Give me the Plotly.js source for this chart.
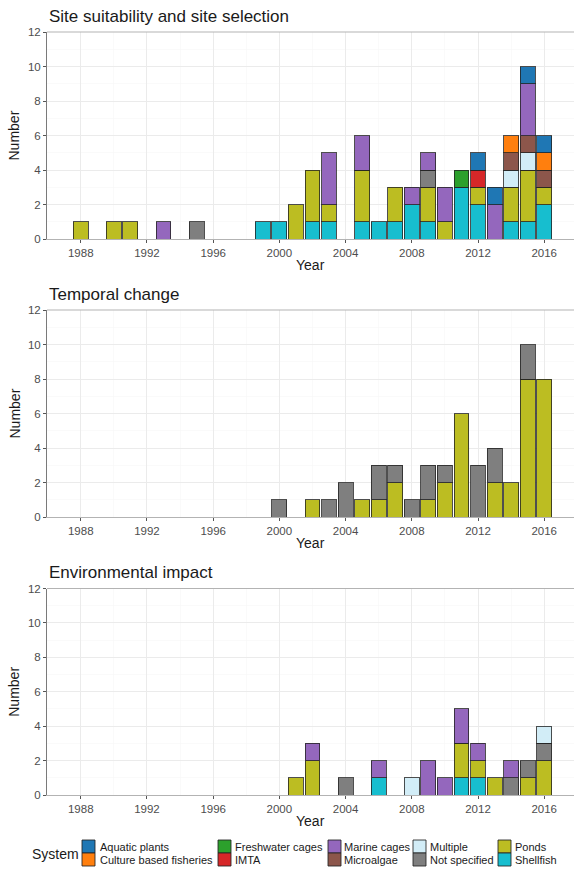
<!DOCTYPE html>
<html>
<head>
<meta charset="utf-8">
<script src="https://cdn.plot.ly/plotly-3.0.1.min.js"></script>
<style>html,body{margin:0;padding:0;background:#fff;}#chart{width:574px;height:872px;}</style>
</head>
<body>
<div id="chart"></div>
<script>
// ---------- DATA ----------
const years = [1988,1989,1990,1991,1992,1993,1994,1995,1996,1997,1998,1999,2000,2001,2002,2003,2004,2005,2006,2007,2008,2009,2010,2011,2012,2013,2014,2015,2016];

const categories = ["Aquatic plants","Culture based fisheries","Freshwater cages","IMTA","Marine cages","Microalgae","Multiple","Not specified","Ponds","Shellfish"];

const panelTitles = ["Site suitability and site selection","Temporal change","Environmental impact"];

//                      1988              1993                1998                2003                2008                2013
// Panel 1: Site suitability and site selection
const site_aquatic    = [0,0,0,0,0, 0,0,0,0,0, 0,0,0,0,0, 0,0,0,0,0, 0,0,0,0,1, 1,0,1,1];
const site_cbf        = [0,0,0,0,0, 0,0,0,0,0, 0,0,0,0,0, 0,0,0,0,0, 0,0,0,0,0, 0,1,0,1];
const site_freshwater = [0,0,0,0,0, 0,0,0,0,0, 0,0,0,0,0, 0,0,0,0,0, 0,0,0,1,0, 0,0,0,0];
const site_imta       = [0,0,0,0,0, 0,0,0,0,0, 0,0,0,0,0, 0,0,0,0,0, 0,0,0,0,1, 0,0,0,0];
const site_marine     = [0,0,0,0,0, 1,0,0,0,0, 0,0,0,0,0, 3,0,2,0,0, 1,1,2,0,0, 2,0,3,0];
const site_microalgae = [0,0,0,0,0, 0,0,0,0,0, 0,0,0,0,0, 0,0,0,0,0, 0,0,0,0,0, 0,1,1,1];
const site_multiple   = [0,0,0,0,0, 0,0,0,0,0, 0,0,0,0,0, 0,0,0,0,0, 0,0,0,0,0, 0,1,1,0];
const site_notspec    = [0,0,0,0,0, 0,0,1,0,0, 0,0,0,0,0, 0,0,0,0,0, 0,1,0,0,0, 0,0,0,0];
const site_ponds      = [1,0,1,1,0, 0,0,0,0,0, 0,0,0,2,3, 1,0,3,0,2, 0,2,1,0,1, 0,2,3,1];
const site_shellfish  = [0,0,0,0,0, 0,0,0,0,0, 0,1,1,0,1, 1,0,1,1,1, 2,1,0,3,2, 0,1,1,2];

// Panel 2: Temporal change
const temp_notspec    = [0,0,0,0,0, 0,0,0,0,0, 0,0,1,0,0, 1,2,0,2,1, 1,2,1,0,3, 2,0,2,0];
const temp_ponds      = [0,0,0,0,0, 0,0,0,0,0, 0,0,0,0,1, 0,0,1,1,2, 0,1,2,6,0, 2,2,8,8];

// Panel 3: Environmental impact
const env_marine      = [0,0,0,0,0, 0,0,0,0,0, 0,0,0,0,1, 0,0,0,1,0, 0,2,1,2,1, 0,1,0,0];
const env_multiple    = [0,0,0,0,0, 0,0,0,0,0, 0,0,0,0,0, 0,0,0,0,0, 1,0,0,0,0, 0,0,0,1];
const env_notspec     = [0,0,0,0,0, 0,0,0,0,0, 0,0,0,0,0, 0,1,0,0,0, 0,0,0,0,0, 0,1,1,1];
const env_ponds       = [0,0,0,0,0, 0,0,0,0,0, 0,0,0,1,2, 0,0,0,0,0, 0,0,0,2,1, 1,0,1,2];
const env_shellfish   = [0,0,0,0,0, 0,0,0,0,0, 0,0,0,0,0, 0,0,0,1,0, 0,0,0,1,1, 0,0,0,0];

// ---------- STYLE ----------
const colors = ['#1f77b4','#ff7f0e','#2ca02c','#d62728','#9467bd','#8c564b','#d2edf7','#7f7f7f','#bcbd22','#17becf'];

const panels = [
  {"Aquatic plants": site_aquatic, "Culture based fisheries": site_cbf, "Freshwater cages": site_freshwater,
   "IMTA": site_imta, "Marine cages": site_marine, "Microalgae": site_microalgae, "Multiple": site_multiple,
   "Not specified": site_notspec, "Ponds": site_ponds, "Shellfish": site_shellfish},
  {"Not specified": temp_notspec, "Ponds": temp_ponds},
  {"Marine cages": env_marine, "Multiple": env_multiple, "Not specified": env_notspec, "Ponds": env_ponds, "Shellfish": env_shellfish}
];

const W = 574, H = 872;
const FONT = "Liberation Sans, Arial, sans-serif";
const plotLeft = 47;
// panel pixel extents (top, bottom)
const panelPx = [[32, 239], [310, 517], [588.5, 795]];

const traces = [];
panels.forEach((p, pi) => {
  const ax = pi === 0 ? '' : String(pi + 1);
  // stack bottom-up: reverse of legend order
  for (let ci = categories.length - 1; ci >= 0; ci--) {
    const cat = categories[ci];
    const vals = p[cat];
    if (!vals) continue;
    const xs = [], ys = [];
    vals.forEach((v, i) => { if (v > 0) { xs.push(years[i]); ys.push(v); } });
    if (!xs.length) continue;
    traces.push({
      type: 'bar', x: xs, y: ys, name: cat, width: 0.9,
      xaxis: 'x' + ax, yaxis: 'y' + ax, showlegend: false,
      marker: {color: colors[ci], line: {color: 'rgba(35,35,35,0.8)', width: 1}},
      hovertemplate: cat + ': %{y}<extra></extra>'
    });
  }
});

const layout = {
  width: W, height: H,
  margin: {l: 0, r: 0, t: 0, b: 0, pad: 0},
  paper_bgcolor: '#ffffff', plot_bgcolor: '#ffffff',
  barmode: 'stack', showlegend: false,
  font: {family: FONT, color: '#4d4d4d'},
  annotations: [], shapes: []
};

const xd = [plotLeft / W, 1];
panelPx.forEach((pp, pi) => {
  const ax = pi === 0 ? '' : String(pi + 1);
  const yd = [1 - pp[1] / H, 1 - pp[0] / H];
  layout['xaxis' + ax] = {
    domain: xd, anchor: 'y' + ax, range: [1985.96, 2017.8],
    tick0: 1988, dtick: 4, ticks: 'outside', ticklen: 3, tickcolor: '#555', tickwidth: 1,
    tickfont: {size: 11.5, color: '#4d4d4d', family: FONT},
    showgrid: true, gridcolor: '#ebebeb', gridwidth: 1,
    minor: {dtick: 2, tick0: 1988, showgrid: true, gridcolor: '#f6f6f6', gridwidth: 0.6, ticks: ''},
    showline: true, linecolor: '#b3b3b3', linewidth: 1.3, zeroline: false, fixedrange: true
  };
  layout['yaxis' + ax] = {
    domain: yd, anchor: 'x' + ax, range: [0, 12],
    tick0: 0, dtick: 2, ticks: 'outside', ticklen: 3, tickcolor: '#555', tickwidth: 1,
    tickfont: {size: 11.5, color: '#4d4d4d', family: FONT},
    showgrid: true, gridcolor: '#ebebeb', gridwidth: 1,
    minor: {dtick: 1, showgrid: true, gridcolor: '#f6f6f6', gridwidth: 0.6, ticks: ''},
    showline: true, linecolor: '#7a7a7a', linewidth: 1, zeroline: false, fixedrange: true
  };
  // top border of panel
  layout.shapes.push({type: 'line', xref: 'paper', yref: 'paper', x0: xd[0], x1: 1, y0: yd[1], y1: yd[1],
    line: {color: '#b3b3b3', width: 1.2}});
  // panel title
  layout.annotations.push({text: panelTitles[pi], xref: 'paper', yref: 'paper', x: plotLeft / W, y: 1 - (pp[0] - 16) / H,
    xanchor: 'left', yanchor: 'middle', showarrow: false, font: {size: 17, color: '#1a1a1a', family: FONT}});
  // x axis title
  layout.annotations.push({text: 'Year', xref: 'paper', yref: 'paper', x: (plotLeft + W) / 2 / W, y: 1 - (pp[1] + 26) / H,
    xanchor: 'center', yanchor: 'middle', showarrow: false, font: {size: 14, color: '#1a1a1a', family: FONT}});
  // y axis title
  layout.annotations.push({text: 'Number', xref: 'paper', yref: 'paper', x: 14 / W, y: 1 - (pp[0] + pp[1]) / 2 / H,
    xanchor: 'center', yanchor: 'middle', textangle: -90, showarrow: false, font: {size: 14, color: '#1a1a1a', family: FONT}});
});

// ---------- LEGEND (drawn from categories/colors) ----------
const legColX = [[82, 98], [218, 233], [328, 342], [413, 428], [498, 513]];
const legRowY = [[840, 853], [853, 866]];
layout.annotations.push({text: 'System', xref: 'paper', yref: 'paper', x: 30 / W, y: 1 - 854 / H,
  xanchor: 'left', yanchor: 'middle', showarrow: false, font: {size: 14, color: '#1a1a1a', family: FONT}});
categories.forEach((cat, ci) => {
  const col = Math.floor(ci / 2), row = ci % 2;
  const sx = legColX[col][0], tx = legColX[col][1];
  const ry = legRowY[row];
  layout.shapes.push({type: 'rect', xref: 'paper', yref: 'paper',
    x0: sx / W, x1: (sx + 13) / W, y0: 1 - ry[1] / H, y1: 1 - ry[0] / H,
    fillcolor: colors[ci], line: {color: 'rgba(35,35,35,0.85)', width: 1}});
  layout.annotations.push({text: cat, xref: 'paper', yref: 'paper', x: tx / W, y: 1 - (ry[0] + ry[1]) / 2 / H,
    xanchor: 'left', yanchor: 'middle', showarrow: false, font: {size: 11, color: '#1a1a1a', family: FONT}});
});

Plotly.newPlot('chart', traces, layout, {displayModeBar: false, staticPlot: true});
</script>
</body>
</html>
